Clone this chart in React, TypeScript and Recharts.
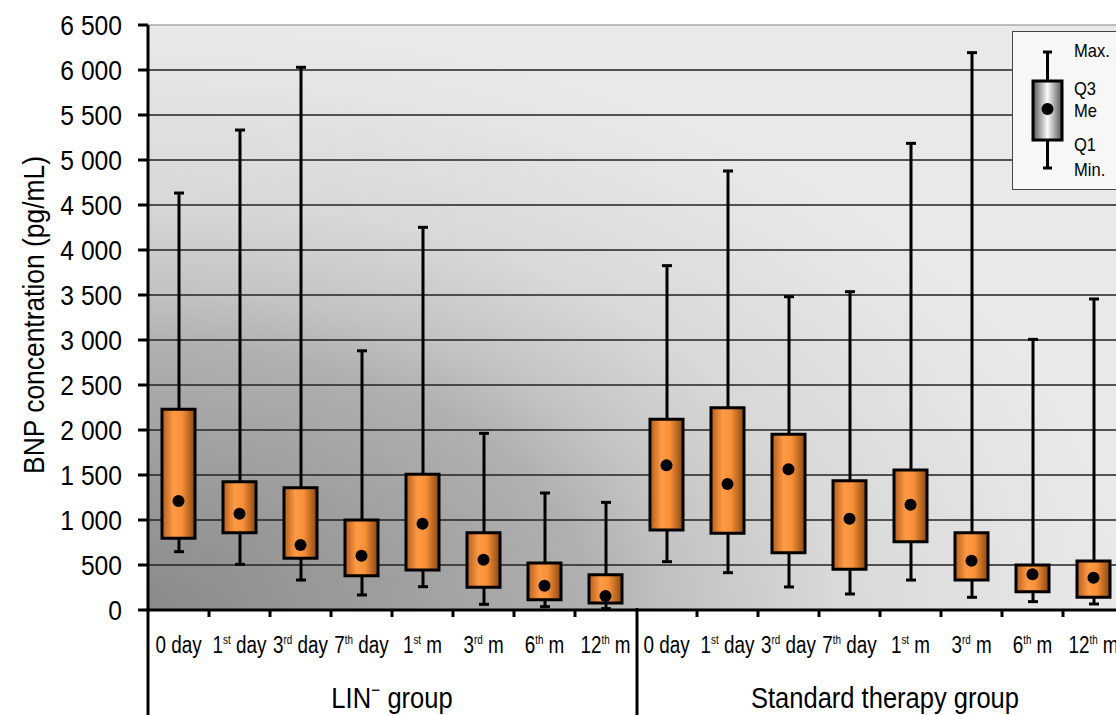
import {
  Bar,
  CartesianGrid,
  ComposedChart,
  ReferenceLine,
  Scatter,
  XAxis,
  YAxis,
} from 'recharts'

// period labels: number + superscript + unit
const periodNum = ['0', '1', '3', '7', '1', '3', '6', '12']
const periodSup = ['', 'st', 'rd', 'th', 'st', 'rd', 'th', 'th']
const periodUnit = ['day', 'day', 'day', 'day', 'm', 'm', 'm', 'm']

// LIN- group
const linMin = [648, 507, 333, 167, 259, 63, 37, 15]
const linQ1 = [796, 859, 574, 381, 444, 252, 115, 78]
const linMedian = [1211, 1070, 722, 604, 959, 559, 270, 156]
const linQ3 = [2230, 1426, 1359, 1000, 1507, 859, 522, 393]
const linMax = [4633, 5333, 6030, 2880, 4252, 1963, 1300, 1196]

// standard therapy group
const stdMin = [537, 415, 256, 178, 333, 141, 93, 67]
const stdQ1 = [889, 852, 637, 452, 759, 333, 204, 141]
const stdMedian = [1607, 1400, 1563, 1015, 1170, 548, 396, 359]
const stdQ3 = [2119, 2248, 1952, 1437, 1556, 859, 500, 544]
const stdMax = [3826, 4878, 3481, 3537, 5185, 6193, 3007, 3456]

const yTicks = [0, 500, 1000, 1500, 2000, 2500, 3000, 3500, 4000, 4500, 5000, 5500, 6000, 6500]
const gridValues = [500, 1000, 1500, 2000, 2500, 3000, 3500, 4000, 4500, 5000, 5500, 6000]

const FONT = '"Liberation Sans", Arial, sans-serif'
const SQ = 0.88 // source text is horizontally condensed

type Row = { key: string; period: number; min: number; q1: number; median: number; q3: number; max: number }

const makeRows = (prefix: string, mn: number[], q1: number[], md: number[], q3: number[], mx: number[]): Row[] =>
  periodNum.map((_, i) => ({ key: `${prefix}-${i}`, period: i, min: mn[i], q1: q1[i], median: md[i], q3: q3[i], max: mx[i] }))

const rows: Row[] = [
  ...makeRows('lin', linMin, linQ1, linMedian, linQ3, linMax),
  ...makeRows('std', stdMin, stdQ1, stdMedian, stdQ3, stdMax),
]

const fmt = (v: number) => (v >= 1000 ? `${Math.floor(v / 1000)} ${String(v % 1000).padStart(3, '0')}` : String(v))

function ValueTick({ x, y, payload }: any) {
  return (
    <text transform={`translate(${x},${y}) scale(${SQ},1)`} textAnchor="end" dy={10} fontSize={28} fontFamily={FONT} fill="#000">
      {fmt(payload.value)}
    </text>
  )
}

function PeriodTick({ x, y, payload, index }: any) {
  const i = rows[index]?.period ?? 0
  const off = payload.offset ?? 30.5
  const isLast = index === 7 || index === rows.length - 1
  return (
    <g>
      {!isLast && <line x1={x + off} x2={x + off} y1={y} y2={y + 7} stroke="#000" strokeWidth={3} />}
      <text transform={`translate(${x},${y + 43}) scale(0.82,1)`} textAnchor="middle" fontSize={23} fontFamily={FONT} fill="#000">
        <tspan>{periodNum[i]}</tspan>
        {periodSup[i] && <tspan fontSize={12} dy={-9}>{periodSup[i]}</tspan>}
        <tspan dy={periodSup[i] ? 9 : 0}>{' ' + periodUnit[i]}</tspan>
      </text>
    </g>
  )
}

function Whisker({ x, y, width, height }: any) {
  const cx = x + width / 2
  return (
    <g>
      <line x1={cx} x2={cx} y1={y} y2={y + height} stroke="#000" strokeWidth={3} />
      <line x1={cx - 5} x2={cx + 5} y1={y} y2={y} stroke="#000" strokeWidth={3} />
      <line x1={cx - 5} x2={cx + 5} y1={y + height} y2={y + height} stroke="#000" strokeWidth={3} />
    </g>
  )
}

function MedianDot({ cx, cy }: any) {
  return <circle cx={cx} cy={cy} r={6} fill="#000" />
}

function Overlay() {
  return (
    <svg width={1116} height={715} style={{ position: 'absolute', left: 0, top: 0, pointerEvents: 'none' }}>
      <defs>
        <linearGradient id="legendFill" x1="0" y1="0" x2="1" y2="0">
          <stop offset="0" stopColor="#555" />
          <stop offset="0.5" stopColor="#fafafa" />
          <stop offset="1" stopColor="#555" />
        </linearGradient>
      </defs>
      <line x1={148} x2={148} y1={608} y2={715} stroke="#000" strokeWidth={3} />
      <line x1={637} x2={637} y1={608} y2={715} stroke="#000" strokeWidth={3} />
      <text
        transform={`translate(44,315) rotate(-90) scale(${SQ},1)`}
        textAnchor="middle"
        fontSize={30}
        fontFamily={FONT}
        fill="#000"
      >
        BNP concentration (pg/mL)
      </text>
      <text transform={`translate(392,708) scale(${SQ},1)`} textAnchor="middle" fontSize={29} fontFamily={FONT} fill="#000">
        <tspan>LIN</tspan>
        <tspan fontSize={18} dy={-12}>−</tspan>
        <tspan dy={12}> group</tspan>
      </text>
      <text transform={`translate(885,708) scale(${SQ},1)`} textAnchor="middle" fontSize={29} fontFamily={FONT} fill="#000">
        Standard therapy group
      </text>

      {/* legend */}
      <rect x={1012.5} y={31.5} width={120} height={158} fill="#f7f7f7" stroke="#444" strokeWidth={1} />
      <line x1={1047.5} x2={1047.5} y1={52} y2={168} stroke="#000" strokeWidth={3} />
      <line x1={1043} x2={1052} y1={52} y2={52} stroke="#000" strokeWidth={3} />
      <line x1={1043} x2={1052} y1={168} y2={168} stroke="#000" strokeWidth={3} />
      <rect x={1033} y={81} width={29} height={59} fill="url(#legendFill)" stroke="#000" strokeWidth={3} />
      <circle cx={1047.5} cy={109} r={6} fill="#000" />
      {[
        ['Max.', 57],
        ['Q3', 95],
        ['Me', 117],
        ['Q1', 151],
        ['Min.', 176],
      ].map(([t, by]) => (
        <text
          key={t as string}
          transform={`translate(1074,${by}) scale(0.92,1)`}
          fontSize={18}
          fontFamily={FONT}
          fill="#000"
        >
          {t}
        </text>
      ))}
    </svg>
  )
}

export default function App() {
  return (
    <div style={{ position: 'fixed', left: 0, top: 0, width: 1116, height: 715, overflow: 'hidden', background: '#fff' }}>
      <ComposedChart width={1130} height={715} data={rows} margin={{ top: 25, right: 6, bottom: 0, left: 0 }}>
        <defs>
          <radialGradient id="plotBg" cx="0" cy="1" r="1" fx="0" fy="1">
            <stop offset="0" stopColor="#8a8a8a" />
            <stop offset="0.25" stopColor="#9e9e9e" />
            <stop offset="0.45" stopColor="#b0b0b0" />
            <stop offset="0.55" stopColor="#c4c4c4" />
            <stop offset="0.7" stopColor="#d8d8d8" />
            <stop offset="0.9" stopColor="#e4e4e4" />
            <stop offset="1" stopColor="#e9e9e9" />
          </radialGradient>
          <linearGradient id="boxFill" x1="0" y1="0" x2="1" y2="0">
            <stop offset="0" stopColor="#b45e1c" />
            <stop offset="0.35" stopColor="#ff9a45" />
            <stop offset="0.6" stopColor="#f89038" />
            <stop offset="1" stopColor="#8a4810" />
          </linearGradient>
        </defs>
        <CartesianGrid fill="url(#plotBg)" fillOpacity={1} horizontalValues={gridValues} vertical={false} stroke="#222" strokeWidth={1.3} />
        <ReferenceLine y={6500} stroke="#aaa" strokeWidth={1.5} />
        <XAxis
          xAxisId="box"
          dataKey="key"
          axisLine={{ stroke: '#000', strokeWidth: 3 }}
          tickLine={false}
          tickSize={0}
          tickMargin={0}
          interval={0}
          height={105}
          tick={<PeriodTick />}
        />
        <XAxis xAxisId="whisker" dataKey="key" hide />
        <YAxis
          domain={[0, 6500]}
          ticks={yTicks}
          width={148}
          tickSize={10}
          tickMargin={16}
          tickLine={{ stroke: '#000', strokeWidth: 3 }}
          axisLine={{ stroke: '#000', strokeWidth: 3 }}
          tick={<ValueTick />}
          interval={0}
        />
        <Bar xAxisId="whisker" dataKey={(d: Row) => [d.min, d.max]} barSize={10} shape={<Whisker />} isAnimationActive={false} />
        <Bar xAxisId="box" dataKey={(d: Row) => [d.q1, d.q3]} barSize={33} fill="url(#boxFill)" stroke="#000" strokeWidth={3} isAnimationActive={false} />
        <Scatter xAxisId="box" dataKey="median" shape={<MedianDot />} isAnimationActive={false} />
      </ComposedChart>
      <Overlay />
    </div>
  )
}
